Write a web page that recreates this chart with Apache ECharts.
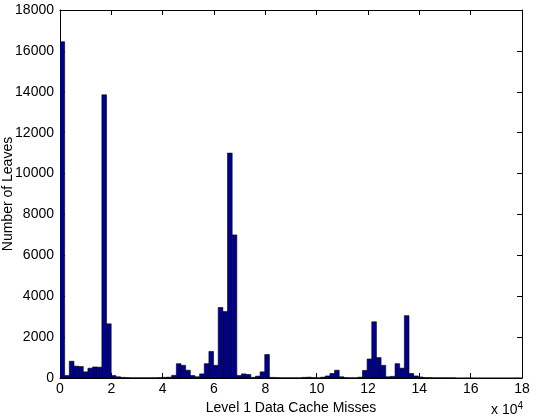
<!DOCTYPE html>
<html>
<head>
<meta charset="utf-8">
<script src="https://cdn.jsdelivr.net/npm/echarts@6/dist/echarts.min.js"></script>
<style>
  html, body { margin: 0; padding: 0; background: #fff; }
  #chart { width: 538px; height: 420px; }
</style>
</head>
<body>
<div id="chart"></div>
<script>
// histogram, 100 bins, x in units of 1e4 misses
const binWidth = 0.1813
const binCounts = [
  16450, 120, 820, 580, 560, 300, 480, 540, 530, 13850,
  2650, 120, 60, 30, 20, 10, 10, 10, 10, 10,
  10, 20, 30, 40, 130, 700, 620, 380, 120, 60,
  200, 700, 1300, 620, 3450, 3250, 11000, 7000, 120, 200,
  170, 30, 90, 300, 1150, 30, 20, 10, 10, 10,
  10, 10, 30, 40, 20, 10, 40, 100, 220, 380,
  60, 20, 10, 10, 40, 370, 930, 2750, 1000, 620,
  60, 80, 700, 480, 3050, 220, 100, 50, 20, 20,
  10, 10, 10, 10, 10, 0, 0, 0, 0, 0,
  0, 0, 0, 0, 0, 0, 0, 0, 0, 0
]
const xTicks = [0, 2, 4, 6, 8, 10, 12, 14, 16, 18]
const yTicks = [0, 2000, 4000, 6000, 8000, 10000, 12000, 14000, 16000, 18000]

const font = 'Liberation Sans, Arial, sans-serif'
const black = '#000'

const data = binCounts.map((v, i) => [i * binWidth, (i + 1) * binWidth, v])

function frameAxis(pos, isX, showLabel) {
  return {
    type: 'value',
    position: pos,
    min: isX ? xTicks[0] : yTicks[0],
    max: isX ? xTicks[xTicks.length - 1] : yTicks[yTicks.length - 1],
    interval: isX ? xTicks[1] - xTicks[0] : yTicks[1] - yTicks[0],
    axisLine: { show: true, onZero: false, lineStyle: { color: black, width: 1 } },
    axisTick: { show: true, inside: true, length: 5, lineStyle: { color: black } },
    splitLine: { show: false },
    axisLabel: {
      show: showLabel,
      color: black,
      fontFamily: font,
      fontSize: 14,
      margin: isX ? 4 : 6,
      formatter: v => String(v)
    }
  }
}

const chart = echarts.init(document.getElementById('chart'), null, { renderer: 'canvas' })

const option = {
  backgroundColor: '#fff',
  animation: false,
  grid: { left: 60, right: 16, top: 10, bottom: 42, containLabel: false, outerBoundsMode: 'none' },
  xAxis: [
    Object.assign(frameAxis('bottom', true, true), {
      name: 'Level 1 Data Cache Misses',
      nameLocation: 'middle',
      nameGap: 14,
      nameTextStyle: { color: black, fontFamily: font, fontSize: 14 }
    }),
    frameAxis('top', true, false)
  ],
  yAxis: [
    frameAxis('left', false, true),
    frameAxis('right', false, false)
  ],
  graphic: [{
    type: 'text',
    x: 1,
    y: 194,
    rotation: Math.PI / 2,
    style: {
      text: 'Number of Leaves',
      fill: black,
      font: '14px ' + font,
      align: 'center',
      verticalAlign: 'top'
    }
  }, {
    type: 'text',
    left: 491,
    top: 401,
    style: {
      text: 'x 10{sup|4}',
      fill: black,
      font: '14px ' + font,
      rich: {
        sup: { fontSize: 10, fontFamily: font, verticalAlign: 'top', padding: [0, 0, 8, 0], fill: black }
      }
    }
  }],
  series: [{
    type: 'custom',
    xAxisIndex: 0,
    yAxisIndex: 0,
    clip: true,
    data: data,
    renderItem: function (params, api) {
      const p0 = api.coord([api.value(0), 0])
      const p1 = api.coord([api.value(1), api.value(2)])
      return {
        type: 'rect',
        shape: { x: p0[0], y: p1[1], width: p1[0] - p0[0], height: p0[1] - p1[1] },
        style: { fill: '#00008F', stroke: '#000', lineWidth: 0.6 }
      }
    }
  }]
}

chart.setOption(option)
</script>
</body>
</html>
